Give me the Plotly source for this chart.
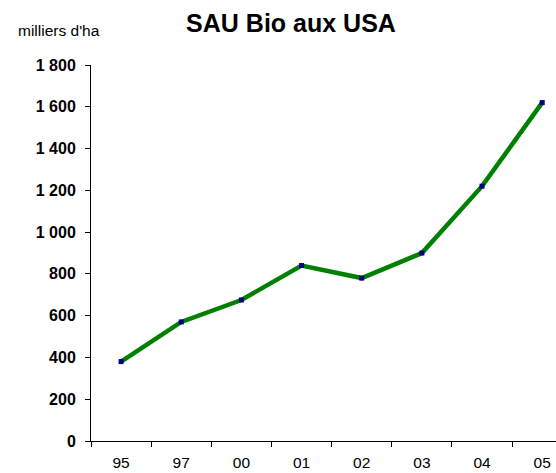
import plotly.graph_objects as go

years = ["95", "97", "00", "01", "02", "03", "04", "05"]
sau_bio = [380, 570, 675, 840, 780, 900, 1220, 1620]
y_ticks = [0, 200, 400, 600, 800, 1000, 1200, 1400, 1600, 1800]

FONT = "Arial, 'Liberation Sans', sans-serif"
W, H = 556, 473
L, T, B = 90.7, 64.7, 473 - 441.3
plot_w = W - L
plot_h = H - T - B

fig = go.Figure()
fig.add_trace(go.Scatter(
    x=years, y=sau_bio, mode="lines+markers",
    line=dict(color="#008000", width=4.5),
    marker=dict(symbol="square", size=5, color="#000080"),
    cliponaxis=False, showlegend=False, hoverinfo="skip",
))

fig.update_layout(
    width=W, height=H,
    margin=dict(l=L, r=0, t=T, b=B, pad=0, autoexpand=False),
    paper_bgcolor="white", plot_bgcolor="white",
    separators=", ",
    font=dict(family=FONT, color="black"),
    title=dict(text="<b>SAU Bio aux USA</b>", x=291 / W, xref="container", xanchor="center",
               y=1 - 23 / H, yref="container", yanchor="middle",
               font=dict(size=25, family=FONT, color="black")),
    annotations=[dict(text="milliers d'ha", x=(59 - L) / plot_w, y=(H - B - 30) / plot_h,
                      xref="paper", yref="paper",
                      showarrow=False, font=dict(size=15.5, family=FONT, color="black"),
                      xanchor="center", yanchor="middle")],
)

fig.update_xaxes(
    type="category", range=[-0.5, plot_w / 60.2 - 0.5], automargin=False,
    showline=True, linecolor="black", linewidth=1,
    ticks="outside", tickson="boundaries", ticklen=5, tickcolor="black", tickwidth=1,
    showgrid=False, zeroline=False,
    tickfont=dict(size=15.5, family=FONT, color="black"),
    ticklabelstandoff=7,
)
fig.update_yaxes(
    range=[0, 1800], tickvals=y_ticks, separatethousands=True, automargin=False,
    showline=True, linecolor="black", linewidth=1,
    ticks="outside", ticklen=5, tickcolor="black", tickwidth=1,
    showgrid=False, zeroline=False,
    tickfont=dict(size=16, family=FONT, color="black", weight="bold"),
    ticklabelstandoff=6,
)

fig.write_html("out.html", config={"displayModeBar": False},
               post_script="document.body.style.margin='0';document.body.style.overflow='hidden';")
